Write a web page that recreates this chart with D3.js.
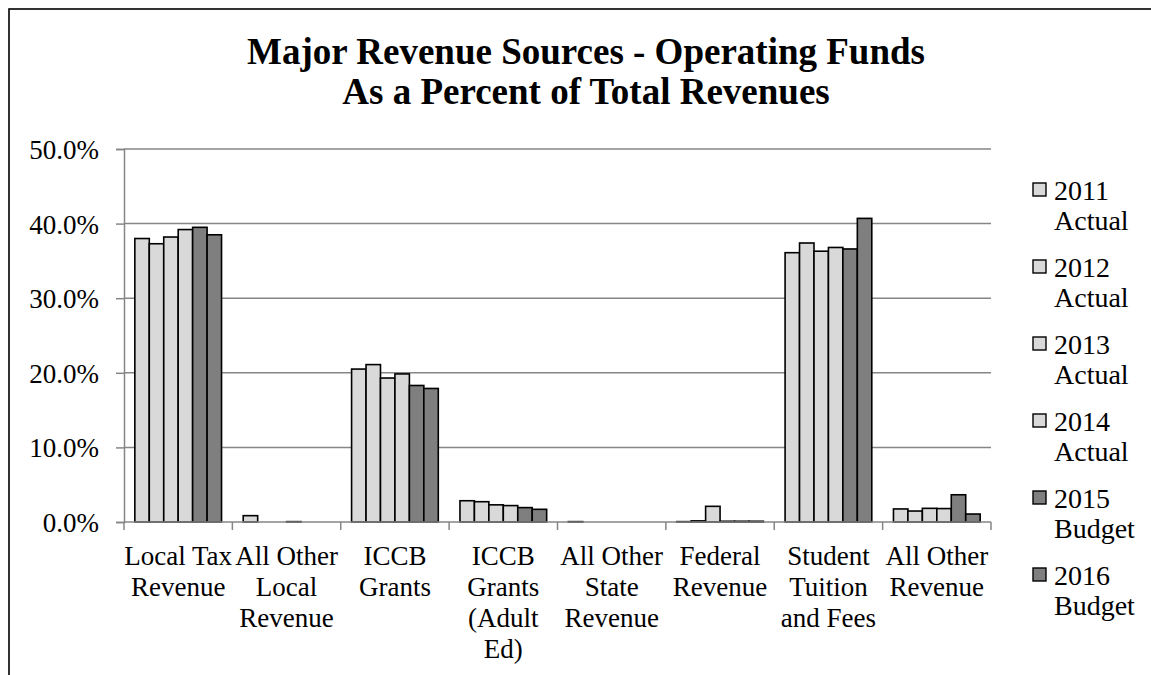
<!DOCTYPE html>
<html>
<head>
<meta charset="utf-8">
<script src="https://cdn.jsdelivr.net/npm/d3@7/dist/d3.min.js"></script>
<style>
  body { margin: 0; background: #fff; }
  svg { display: block; }
  text { font-family: "Liberation Serif", "Times New Roman", serif; fill: #000; }
</style>
</head>
<body>
<svg id="chart"></svg>
<script>
/* data (percent of total revenues) */
var categories = [
    ["Local Tax", "Revenue"],
    ["All Other", "Local", "Revenue"],
    ["ICCB", "Grants"],
    ["ICCB", "Grants", "(Adult", "Ed)"],
    ["All Other", "State", "Revenue"],
    ["Federal", "Revenue"],
    ["Student", "Tuition", "and Fees"],
    ["All Other", "Revenue"]
];
var seriesNames = [["2011", "Actual"], ["2012", "Actual"], ["2013", "Actual"],
                   ["2014", "Actual"], ["2015", "Budget"], ["2016", "Budget"]];
var seriesColors = ["#d9d9d9", "#d9d9d9", "#d9d9d9", "#d9d9d9", "#7f7f7f", "#7f7f7f"];

var v2011 = [38.0, 0.85, 20.5, 2.85, 0.05, 0.05, 36.1, 1.75];
var v2012 = [37.3, 0.0, 21.1, 2.72, 0.0, 0.15, 37.4, 1.47];
var v2013 = [38.2, 0.0, 19.3, 2.3, 0.0, 2.1, 36.3, 1.83];
var v2014 = [39.2, 0.05, 19.85, 2.2, 0.0, 0.1, 36.8, 1.8];
var v2015 = [39.5, 0.0, 18.3, 1.93, 0.0, 0.1, 36.6, 3.65];
var v2016 = [38.5, 0.0, 17.9, 1.7, 0.0, 0.1, 40.7, 1.07];
var seriesValues = [v2011, v2012, v2013, v2014, v2015, v2016];

var yTicks = [0, 10, 20, 30, 40, 50];

/* Init main svg */
var svg = d3.select('#chart')
    .attr('width', 1151)
    .attr('height', 675);

// outer chart border (runs off the right and bottom of the picture)
svg.append('rect')
    .attr('x', 9).attr('y', 9)
    .attr('width', 1300).attr('height', 800)
    .style('fill', 'none')
    .style('stroke', '#000')
    .style('stroke-width', 1.6);

// title
var title = svg.append('text')
    .attr('text-anchor', 'middle')
    .style('font-weight', 'bold')
    .style('font-size', '37px');
title.append('tspan').attr('x', 586).attr('y', 64).text('Major Revenue Sources - Operating Funds');
title.append('tspan').attr('x', 586).attr('y', 104).text('As a Percent of Total Revenues');

var plot = {left: 124, right: 991, top: 149, bottom: 522};

var x0 = d3.scaleBand()
    .domain(d3.range(categories.length))
    .range([plot.left, plot.right])
    .paddingInner(0.2)
    .paddingOuter(0.1);

var x1 = d3.scaleBand()
    .domain(d3.range(seriesNames.length))
    .range([0, x0.bandwidth()]);

var y = d3.scaleLinear()
    .domain([0, 50])
    .range([plot.bottom, plot.top]);

// gridlines
svg.append('g')
    .selectAll('line')
    .data(yTicks.filter(d => d > 0))
    .enter()
    .append('line')
    .attr('x1', plot.left).attr('x2', plot.right)
    .attr('y1', d => y(d)).attr('y2', d => y(d))
    .style('stroke', '#868686')
    .style('stroke-width', 1.5);

// y axis
var yAxis = svg.append('g')
    .attr('transform', `translate(${plot.left},0)`)
    .call(d3.axisLeft(y)
        .tickValues(yTicks)
        .tickFormat(d => d.toFixed(1) + '%')
        .tickSize(8)
        .tickPadding(17));
yAxis.attr('font-family', null).attr('font-size', null);
yAxis.select('.domain').style('stroke', '#868686').style('stroke-width', 1.5);
yAxis.selectAll('.tick line').style('stroke', '#868686').style('stroke-width', 1.5);
yAxis.selectAll('.tick text')
    .style('font-size', '27px')
    .attr('dy', '0.35em');

// bars
var groups = svg.append('g')
    .selectAll('g.cat')
    .data(categories.map((c, i) => i))
    .enter()
    .append('g')
    .attr('class', 'cat')
    .attr('transform', d => `translate(${x0(d)},0)`);

groups.selectAll('rect')
    .data(ci => seriesValues.map((vals, si) => ({si: si, v: vals[ci]})))
    .enter()
    .append('rect')
    .attr('x', d => x1(d.si))
    .attr('y', d => y(d.v))
    .attr('width', x1.bandwidth())
    .attr('height', d => y(0) - y(d.v))
    .style('fill', d => seriesColors[d.si])
    .style('stroke', '#000')
    .style('stroke-width', 1.6);

// x axis baseline and category boundary ticks
svg.append('line')
    .attr('x1', plot.left).attr('x2', plot.right)
    .attr('y1', y(0)).attr('y2', y(0))
    .style('stroke', '#868686')
    .style('stroke-width', 1.5);

svg.append('g')
    .selectAll('line')
    .data(d3.range(categories.length + 1))
    .enter()
    .append('line')
    .attr('x1', d => plot.left + d * x0.step())
    .attr('x2', d => plot.left + d * x0.step())
    .attr('y1', y(0)).attr('y2', y(0) + 8)
    .style('stroke', '#868686')
    .style('stroke-width', 1.5);

// category labels
var catText = svg.append('g')
    .selectAll('text')
    .data(categories)
    .enter()
    .append('text')
    .attr('text-anchor', 'middle')
    .style('font-size', '27px');
catText.each(function(lines, i){
    var cx = x0(i) + x0.bandwidth() / 2;
    d3.select(this).selectAll('tspan')
        .data(lines)
        .enter()
        .append('tspan')
        .attr('x', cx)
        .attr('y', (d, k) => 565 + k * 31)
        .text(d => d);
});

// legend
var legend = svg.append('g')
    .selectAll('g')
    .data(seriesNames)
    .enter()
    .append('g')
    .attr('transform', (d, i) => `translate(1033,${200 + i * 77})`);

legend.append('rect')
    .attr('x', 0).attr('y', -17)
    .attr('width', 13).attr('height', 13)
    .style('fill', (d, i) => seriesColors[i])
    .style('stroke', '#000')
    .style('stroke-width', 1.4);

var legText = legend.append('text')
    .style('font-size', '28px');
legText.append('tspan').attr('x', 21).attr('y', 0).text(d => d[0]);
legText.append('tspan').attr('x', 21).attr('y', 30).text(d => d[1]);
</script>
</body>
</html>
